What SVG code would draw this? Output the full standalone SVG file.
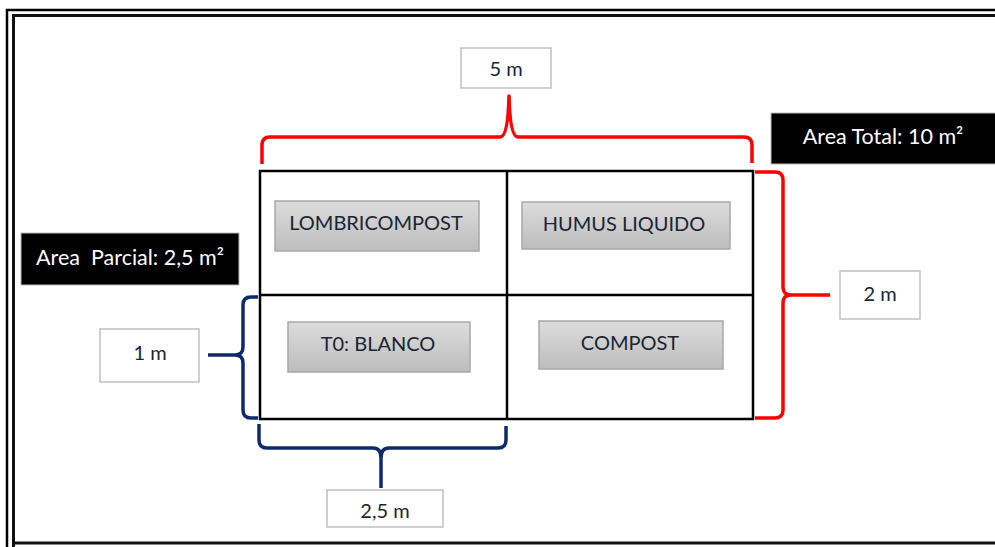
<svg xmlns="http://www.w3.org/2000/svg" width="995" height="547" viewBox="0 0 995 547">
<defs>
<linearGradient id="g" x1="0" y1="0" x2="0" y2="1">
<stop offset="0" stop-color="#dcdcdc"/>
<stop offset="1" stop-color="#bdbdbd"/>
</linearGradient>
<style>
.lbl{font-family:Lato,"Liberation Sans",sans-serif;font-size:20px;fill:#1b2433;text-anchor:middle}
.wt{font-family:Lato,"Liberation Sans",sans-serif;font-size:21.5px;fill:#ffffff;text-anchor:middle}
.gbox{fill:url(#g);stroke:#a8a8a8;stroke-width:1.5}
.wbox{fill:#ffffff;stroke:#c0c0c0;stroke-width:1.5}
.bbox{fill:#000000;stroke:#bbbbbb;stroke-width:1}
.red{fill:none;stroke:#ff0000;stroke-width:3.5;stroke-linejoin:round}
.blue{fill:none;stroke:#0e2a6b;stroke-width:3.5;stroke-linejoin:round}
.grid{fill:none;stroke:#000000;stroke-width:2.5}
</style>
</defs>
<rect width="995" height="547" fill="#ffffff"/>
<g id="frame" fill="none" stroke="#000">
<path d="M7 547 V10 H995" stroke-width="2.5"/>
<path d="M13.5 547 V15.5 H995" stroke-width="3" stroke="#111"/>
<path d="M13.5 543 H995" stroke-width="3" stroke="#111"/>
</g>
<g id="grid">
<rect class="grid" x="260" y="171" width="493" height="248"/>
<line class="grid" x1="507" y1="171" x2="507" y2="419"/>
<line class="grid" x1="260" y1="295" x2="753" y2="295"/>
</g>
<g id="connectors">
<path class="red" d="M262 164 V145 Q262 137 270 137 H500 Q508 137 509 96 Q510 137 518 137 H744 Q752 137 752 145 V163"/>
<path class="red" d="M755 172 H775 Q783 172 783 180 V287 Q783 295 791 295 H830 M791 295 Q783 295 783 303 V410 Q783 418 775 418 H755"/>
<path class="blue" d="M258 297 H251 Q243 297 243 305 V347 Q243 355 235 355 H208 M235 355 Q243 355 243 363 V410 Q243 418 251 418 H258"/>
<path class="blue" d="M259 424 V440 Q259 448 267 448 H373 Q381 448 381 458 V488 M381 458 Q381 448 389 448 H498 Q506 448 506 440 V426"/>
</g>
<g id="n-5m"><rect class="wbox" x="461" y="48" width="90" height="40"/><text class="lbl" x="506" y="76">5 m</text></g>
<g id="n-total"><rect class="bbox" x="771" y="113" width="226" height="51"/><text class="wt" x="883" y="144">Area Total: 10 m²</text></g>
<g id="n-parcial"><rect class="bbox" x="21" y="233" width="218" height="52"/><text class="wt" x="130" y="265" xml:space="preserve">Area  Parcial: 2,5 m²</text></g>
<g id="n-1m"><rect class="wbox" x="100" y="329" width="99" height="53"/><text class="lbl" x="150" y="360">1 m</text></g>
<g id="n-2m"><rect class="wbox" x="840" y="271" width="80" height="48"/><text class="lbl" x="880" y="301">2 m</text></g>
<g id="n-25m"><rect class="wbox" x="327" y="490" width="116" height="37"/><text class="lbl" x="385" y="518">2,5 m</text></g>
<g id="n-lombri"><rect class="gbox" x="275" y="201" width="204" height="50"/><text class="lbl" x="376" y="230">LOMBRICOMPOST</text></g>
<g id="n-humus"><rect class="gbox" x="522" y="202" width="208" height="47"/><text class="lbl" x="624" y="231">HUMUS LIQUIDO</text></g>
<g id="n-blanco"><rect class="gbox" x="288" y="322" width="182" height="50"/><text class="lbl" x="378" y="351">T0: BLANCO</text></g>
<g id="n-compost"><rect class="gbox" x="539" y="321" width="184" height="48"/><text class="lbl" x="630" y="350">COMPOST</text></g>
</svg>
